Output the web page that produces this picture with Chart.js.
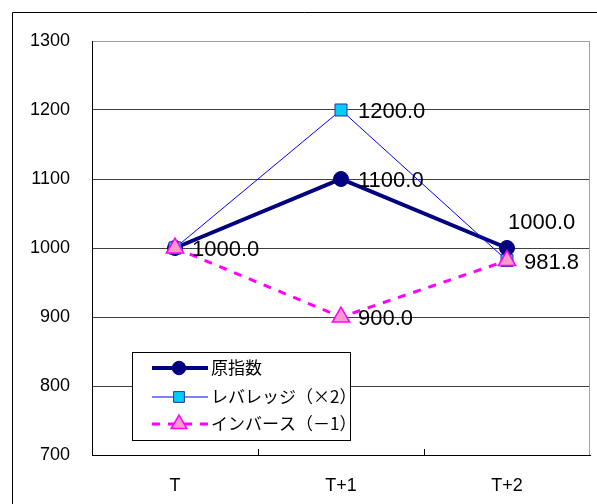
<!DOCTYPE html>
<html>
<head>
<meta charset="utf-8">
<style>
html, body { margin: 0; padding: 0; background: #fff; }
</style>
<script src="https://cdn.jsdelivr.net/npm/chart.js@4.4.1/dist/chart.umd.min.js"></script>
</head>
<body>
<canvas id="chart" width="597" height="504"></canvas>
<script>
const periods = ['T', 'T+1', 'T+2'];
const seriesNames = ['原指数', 'レバレッジ（×2）', 'インバース（－1）'];
const baseIndex = [1000, 1100, 1000];
const leveraged = [1000, 1200, 981.8];
const inverse = [1000, 900, 981.8];
const yTicks = [700, 800, 900, 1000, 1100, 1200, 1300];

const latinFont = 'Liberation Sans, Arial, sans-serif';
const cjkFont = '"Noto Sans CJK JP", sans-serif';

// small marker painter, used for the legend samples
function drawMarker(ctx, style, x, y, r, fill, stroke, lw) {
  ctx.save();
  ctx.beginPath();
  if (style === 'circle') {
    ctx.arc(x, y, r, 0, Math.PI * 2);
  } else if (style === 'rect') {
    const s = r * Math.SQRT1_2;
    ctx.rect(x - s, y - s, s * 2, s * 2);
  } else {
    ctx.moveTo(x, y - r);
    ctx.lineTo(x + r * Math.sin(Math.PI / 3), y + r / 2);
    ctx.lineTo(x - r * Math.sin(Math.PI / 3), y + r / 2);
    ctx.closePath();
  }
  ctx.fillStyle = fill;
  ctx.fill();
  ctx.lineWidth = lw;
  ctx.strokeStyle = stroke;
  ctx.stroke();
  ctx.restore();
}

const framePlugin = {
  id: 'frame',
  beforeDraw(chart) {
    const ctx = chart.ctx;
    ctx.save();
    ctx.fillStyle = '#fff';
    ctx.fillRect(0, 0, chart.width, chart.height);
    ctx.strokeStyle = '#000';
    ctx.lineWidth = 1;
    ctx.beginPath();
    ctx.moveTo(12.5, chart.height);
    ctx.lineTo(12.5, 12.5);
    ctx.lineTo(chart.width, 12.5);
    ctx.stroke();
    ctx.restore();
  },
  afterDraw(chart) {
    const ctx = chart.ctx;
    const area = chart.chartArea;
    const x = chart.scales.x;
    ctx.save();
    // right edge of plot area
    ctx.strokeStyle = '#a0a0a0';
    ctx.lineWidth = 1;
    ctx.beginPath();
    ctx.moveTo(area.right - 0.5, area.top);
    ctx.lineTo(area.right - 0.5, area.bottom);
    ctx.stroke();
    // inner tick marks between categories
    ctx.strokeStyle = '#000';
    ctx.beginPath();
    for (let i = 0; i < periods.length - 1; i++) {
      const px = Math.round((x.getPixelForTick(i) + x.getPixelForTick(i + 1)) / 2) + 0.5;
      ctx.moveTo(px, area.bottom);
      ctx.lineTo(px, area.bottom - 6);
    }
    ctx.stroke();
    ctx.restore();
  }
};

const valueLabels = {
  id: 'valueLabels',
  afterDatasetsDraw(chart) {
    const ctx = chart.ctx;
    const seen = {};
    ctx.save();
    ctx.font = '22px ' + latinFont;
    ctx.fillStyle = '#000';
    ctx.textBaseline = 'middle';
    ctx.textAlign = 'left';
    chart.data.datasets.forEach((ds, di) => {
      const meta = chart.getDatasetMeta(di);
      meta.data.forEach((pt, i) => {
        const above = di === 0 && i === 2;
        const tx = above ? pt.x + 1 : pt.x + 17;
        const ty = above ? pt.y - 25 : pt.y + 2;
        const text = ds.data[i].toFixed(1);
        // identical labels on the same spot are only drawn once
        const key = text + '@' + Math.round(tx) + ',' + Math.round(ty);
        if (seen[key]) return;
        seen[key] = true;
        ctx.fillText(text, tx, ty);
      });
    });
    ctx.restore();
  }
};

const boxLegend = {
  id: 'boxLegend',
  afterDraw(chart) {
    const ctx = chart.ctx;
    const left = 132, top = 352, w = 218, h = 88;
    const rows = [368, 397, 424];
    ctx.save();
    ctx.fillStyle = '#fff';
    ctx.fillRect(left, top, w, h);
    ctx.strokeStyle = '#000';
    ctx.lineWidth = 1;
    ctx.strokeRect(left + 0.5, top + 0.5, w, h);
    chart.data.datasets.forEach((ds, i) => {
      const y = rows[i];
      ctx.save();
      ctx.strokeStyle = ds.borderColor;
      ctx.lineWidth = ds.borderWidth;
      ctx.setLineDash(ds.borderDash || []);
      ctx.beginPath();
      ctx.moveTo(152, y);
      ctx.lineTo(208, y);
      ctx.stroke();
      ctx.restore();
      drawMarker(ctx, ds.pointStyle, 179, y, ds.pointRadius * 0.9,
        ds.pointBackgroundColor, ds.pointBorderColor, ds.pointBorderWidth || 1);
      ctx.fillStyle = '#000';
      ctx.font = '17px ' + cjkFont;
      ctx.textBaseline = 'middle';
      ctx.textAlign = 'left';
      ctx.fillText(ds.label, 211, y);
    });
    ctx.restore();
  }
};

new Chart(document.getElementById('chart'), {
  type: 'line',
  data: {
    labels: periods,
    datasets: [{
      label: seriesNames[0],
      data: baseIndex,
      borderColor: '#000080',
      borderWidth: 4,
      pointStyle: 'circle',
      pointRadius: 7.5,
      pointBackgroundColor: '#000080',
      pointBorderColor: '#000080',
      pointBorderWidth: 1,
      order: 3
    }, {
      label: seriesNames[1],
      data: leveraged,
      borderColor: '#0000ff',
      borderWidth: 1,
      pointStyle: 'rect',
      pointRadius: 8.5,
      pointBackgroundColor: '#00ccff',
      pointBorderColor: '#333399',
      pointBorderWidth: 1,
      order: 2
    }, {
      label: seriesNames[2],
      data: inverse,
      borderColor: '#ff00ff',
      borderWidth: 3,
      borderDash: [8, 8],
      pointStyle: 'triangle',
      pointRadius: 10,
      pointBackgroundColor: '#ff99cc',
      pointBorderColor: '#ff00ff',
      pointBorderWidth: 1.5,
      order: 1
    }]
  },
  plugins: [framePlugin, valueLabels, boxLegend],
  options: {
    responsive: false,
    animation: false,
    events: [],
    layout: {
      autoPadding: false,
      padding: { top: 41, right: 7, left: 0, bottom: 0 }
    },
    scales: {
      x: {
        offset: true,
        grid: { display: false, drawTicks: false },
        border: { color: '#000', width: 1 },
        ticks: { color: '#000', font: { family: latinFont, size: 18 }, padding: 20 },
        afterFit: s => { s.height = 49; s.paddingLeft = 0; s.paddingRight = 0; }
      },
      y: {
        min: yTicks[0],
        max: yTicks[yTicks.length - 1],
        afterBuildTicks: axis => { axis.ticks = yTicks.map(v => ({ value: v })); },
        grid: {
          drawTicks: false,
          color: c => (c.tick && c.tick.value === yTicks[yTicks.length - 1]) ? '#a0a0a0' : '#404040'
        },
        border: { color: '#000', width: 1 },
        ticks: {
          color: '#000',
          font: { family: latinFont, size: 18 },
          padding: 22,
          callback: v => String(v)
        },
        afterFit: s => { s.width = 92; }
      }
    },
    plugins: {
      legend: { display: false },
      tooltip: { enabled: false }
    }
  }
});
</script>
</body>
</html>
